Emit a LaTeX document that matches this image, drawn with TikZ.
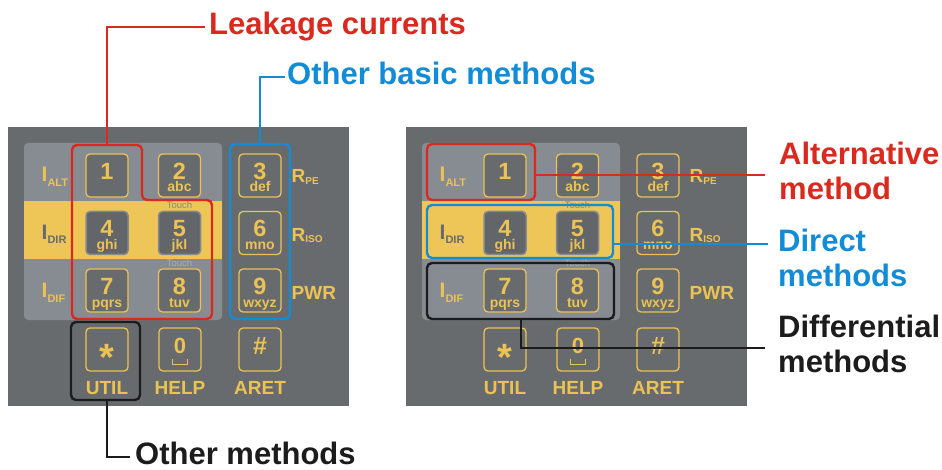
\documentclass[tikz,border=0pt]{standalone}
\usepackage{fontspec}
\setmainfont{Liberation Sans}
\usetikzlibrary{calc}
\definecolor{bgray}{HTML}{686B6E}
\definecolor{lgray}{HTML}{878B92}
\definecolor{kyel}{HTML}{EBC253}
\definecolor{band}{HTML}{EEC658}
\definecolor{kdark}{HTML}{62666A}
\definecolor{kedge}{HTML}{858990}
\definecolor{touchA}{HTML}{8C8679}
\definecolor{touchB}{HTML}{ACAFB3}
\definecolor{cred}{HTML}{DA2A1F}
\definecolor{cblue}{HTML}{128CD6}
\definecolor{cblack}{HTML}{1C1C1C}
\newcommand\fs[1]{\fontsize{#1}{#1}\selectfont}
\tikzset{
  keybox/.style={draw=kyel, line width=1.3pt, fill=bgray, rounded corners=4pt,
    minimum width=42pt, minimum height=43pt, inner sep=0pt},
  keyband/.style={keybox, draw=kedge, fill=kdark, line width=1.5pt},
  digit/.style={text=kyel, font=\bfseries\fs{23.5}, inner sep=0pt, anchor=base},
  letters/.style={text=kyel, font=\bfseries\fs{14}, inner sep=0pt, anchor=base},
  lbl/.style={text=kyel, font=\bfseries\fs{19}, inner sep=0pt, anchor=base},
  side/.style={text=kyel, font=\bfseries, inner sep=0pt, anchor=base west},
  touch/.style={font=\fs{9.5}, inner sep=0pt, anchor=base},
  callbox/.style={line width=2.4pt, rounded corners=5pt},
  callline/.style={line width=2.4pt},
  calltext/.style={font=\bfseries\fs{31}, inner sep=0pt, anchor=base west},
  calltwo/.style={font=\bfseries\fontsize{31}{35}\selectfont, inner sep=0pt, anchor=base west, align=left},
}
% #1 prefix, #2 name, #3 x, #4 y, #5 digit, #6 letters, #7 style
\newcommand\padkey[7]{%
  \node[#7] (#1#2) at (#3,#4) {};
  \node[digit] (#1#2d) at ({#3},{#4+4}) {#5};
  \node[letters] (#1#2l) at ({#3},{#4+16.5}) {#6};
}
\newcommand\keypad[2]{%
\begin{scope}[shift={(#2,0)}]
  \fill[bgray] (8,127) rectangle (349,406);
  \fill[lgray, rounded corners=4pt] (24,143) rectangle (222,320);
  \fill[band] (24,201) rectangle (222,259);
  % row 1
  \node[keybox] (#1k1) at (107,175.5) {};
  \node[digit] (#1k1d) at (107,179.5) {1};
  \padkey{#1}{k2}{179.5}{175.5}{2}{abc}{keybox}
  \padkey{#1}{k3}{260}{175.5}{3}{def}{keybox}
  % row 2
  \padkey{#1}{k4}{107}{233}{4}{ghi}{keyband}
  \padkey{#1}{k5}{179.5}{233}{5}{jkl}{keyband}
  \padkey{#1}{k6}{260}{233}{6}{mno}{keybox}
  % row 3
  \padkey{#1}{k7}{107}{290.5}{7}{pqrs}{keybox}
  \padkey{#1}{k8}{179.5}{290.5}{8}{tuv}{keybox}
  \padkey{#1}{k9}{260}{290.5}{9}{wxyz}{keybox}
  % row 4
  \node[keybox] (#1ks) at (107,349.5) {};
  \node[text=kyel, font=\bfseries\fs{38}, inner sep=0pt, anchor=base] (#1ksd) at (107,370) {*};
  \node[keybox] (#1k0) at (180,349.5) {};
  \node[text=kyel, font=\bfseries\fs{22}, inner sep=0pt, anchor=base] (#1k0d) at (180,353) {0};
  \draw[kyel, line width=1.5pt] (172.5,359) -- (172.5,364.5) -- (187.5,364.5) -- (187.5,359);
  \node[keybox] (#1kh) at (260,349.5) {};
  \node[text=kyel, font=\bfseries\fs{25}, inner sep=0pt, anchor=base] (#1khd) at (260,354) {\#};
  % bottom labels
  \node[lbl] (#1util) at (107,394) {UTIL};
  \node[lbl] (#1help) at (180,394) {HELP};
  \node[lbl] (#1aret) at (260,394) {ARET};
  % touch
  \node[touch, text=touchA] (#1t1) at (179.5,208.5) {Touch};
  \node[touch, text=touchB] (#1t2) at (179.5,266.5) {Touch};
  % left side labels
  \node[side] (#1ialt) at (41.5,182) {{\fs{21}I}\raisebox{-5pt}{\fs{11}ALT}};
  \node[side, text=bgray] (#1idir) at (41.5,240) {{\fs{21}I}\raisebox{-4pt}{\fs{11}DIR}};
  \node[side] (#1idif) at (41.5,298) {{\fs{21}I}\raisebox{-5pt}{\fs{11}DIF}};
  % right side labels
  \node[side] (#1rpe) at (291.5,183) {{\fs{19}R}\raisebox{-2pt}{\fs{10}PE}};
  \node[side] (#1riso) at (291.5,242) {{\fs{19}R}\raisebox{-1pt}{\fs{10}ISO}};
  \node[side] (#1pwr) at (291.5,299) {{\fs{19}PWR}};
\end{scope}}

\begin{document}
\begin{tikzpicture}[x=1pt, y=-1pt]
  \useasboundingbox (0,0) rectangle (942,470);
  \fill[white] (0,0) rectangle (942,470);
  \keypad{L}{0}
  \keypad{R}{398}

  % ---------- left annotations ----------
  \node[calltext, text=cred] (leak) at (209,35) {Leakage currents};
  \node[calltext, text=cblue] (obm) at (287,85) {Other basic methods};
  \node[calltext, text=cblack] (om) at (135,464) {Other methods};

  \draw[callbox, cred] (72,145) -- (142,145) -- (142,200) -- (212,200) -- (212,319) -- (72,319) -- cycle;
  \coordinate (leakA) at (107,145);
  \draw[callline, cred] (leakA) |- ([shift={(-4pt,8pt)}]leak.base west);

  \draw[callbox, cblue] (230,144) rectangle (290,319);
  \coordinate (obmA) at (260,144);
  \draw[callline, cblue] (obmA) |- ([shift={(-2pt,8pt)}]obm.base west);

  \draw[callbox, cblack] (71,322) rectangle (140,400);
  \coordinate (omA) at (107,400);
  \draw[callline, cblack] (omA) |- ([shift={(-5pt,7pt)}]om.base west);

  % ---------- right annotations ----------
  \node[calltwo, text=cred] (alt) at (779,200) {Alternative\\method};
  \node[calltwo, text=cblue] (dir) at (778,287) {Direct\\methods};
  \node[calltwo, text=cblack] (dif) at (778,372) {Differential\\methods};

  \draw[callbox, cred] (427,144) rectangle (535,200);
  \coordinate (altA) at (535,175);
  \draw[callline, cred] (altA) -- ([xshift=-14pt]altA -| alt.west);

  \draw[callbox, cblue] (427,205) rectangle (613,258);
  \coordinate (dirA) at (613,244);
  \draw[callline, cblue] (dirA) -- ([xshift=-10pt]dirA -| dir.west);

  \draw[callbox, cblack] (427,263) rectangle (614,319);
  \coordinate (difA) at (521,319);
  \coordinate (difB) at (521,348);
  \draw[callline, cblack] (difA) -- (difB) -- ([xshift=-13pt]difB -| dif.west);
\end{tikzpicture}
\end{document}
